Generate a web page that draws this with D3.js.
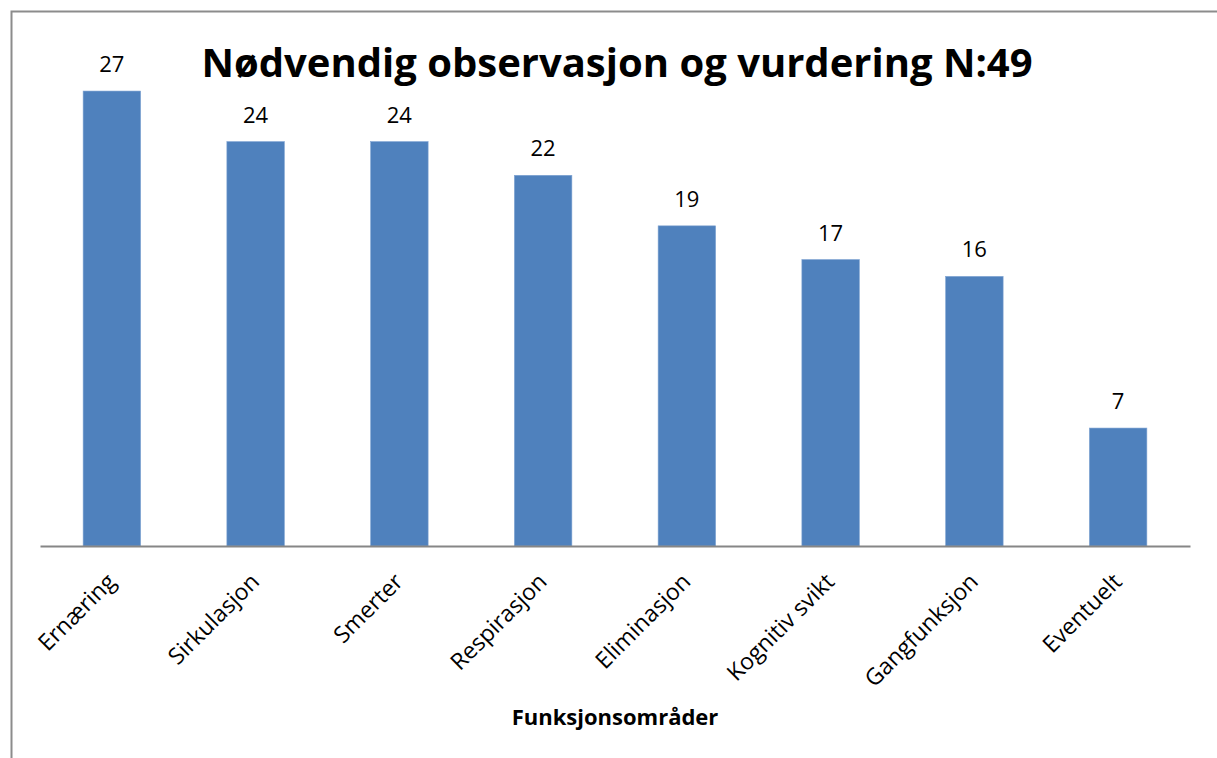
<!DOCTYPE html>
<html>
<head>
<meta charset="utf-8">
<script src="https://cdn.jsdelivr.net/npm/d3@7"></script>
<style>
  body { margin: 0; background: #fff; }
  svg { font-family: "Open Sans", "Liberation Sans", sans-serif; }
</style>
</head>
<body>
<div id="chart"></div>
<script>
const categories = ['Ernæring', 'Sirkulasjon', 'Smerter', 'Respirasjon', 'Eliminasjon', 'Kognitiv svikt', 'Gangfunksjon', 'Eventuelt'];
const values = [27, 24, 24, 22, 19, 17, 16, 7];
const chartTitle = 'Nødvendig observasjon og vurdering N:49';
const xTitle = 'Funksjonsområder';

const width = 1217, height = 758;
const margin = {top: 40.5, right: 27, bottom: 212, left: 40};
const chartWidth = width - margin.left - margin.right;
const chartHeight = height - margin.top - margin.bottom;

const svg = d3.select('#chart')
  .append('svg')
  .attr('width', width)
  .attr('height', height);

// outer frame (runs off the right and bottom edge like the original)
svg.append('rect')
  .attr('x', 11.5).attr('y', 11.5)
  .attr('width', width + 10).attr('height', height + 10)
  .attr('fill', 'none')
  .attr('stroke', '#8c8c8c')
  .attr('stroke-width', 2);

const g = svg.append('g')
  .attr('transform', `translate(${margin.left},${margin.top})`);

const x = d3.scaleBand()
  .domain(categories)
  .range([0, chartWidth])
  .paddingInner(0.6)
  .paddingOuter(0.3);

const y = d3.scaleLinear()
  .domain([0, 30])
  .range([chartHeight, 0]);

// bars
g.selectAll('rect.bar')
  .data(values)
  .join('rect')
  .attr('class', 'bar')
  .attr('x', (d, i) => x(categories[i]))
  .attr('y', d => y(d))
  .attr('width', x.bandwidth())
  .attr('height', d => chartHeight - y(d))
  .attr('fill', '#4f81bd')
  .attr('stroke', '#7fa3d2')
  .attr('stroke-width', 0.6);

// value labels
g.selectAll('text.val')
  .data(values)
  .join('text')
  .attr('class', 'val')
  .attr('x', (d, i) => x(categories[i]) + x.bandwidth() / 2)
  .attr('y', d => y(d) - 19)
  .attr('text-anchor', 'middle')
  .attr('font-size', 22)
  .attr('fill', '#000')
  .text(d => d);

// x axis
const xAxis = g.append('g')
  .attr('transform', `translate(0,${chartHeight})`)
  .call(d3.axisBottom(x).tickSize(0).tickSizeOuter(0));
xAxis.select('.domain').attr('stroke', '#868686').attr('stroke-width', 2);
xAxis.selectAll('.tick text')
  .attr('font-size', 23)
  .attr('font-family', '"Open Sans", sans-serif')
  .attr('fill', '#000')
  .attr('text-anchor', 'end')
  .attr('dy', 0)
  .attr('transform', 'translate(3,35) rotate(-45)');

// title
svg.append('text')
  .attr('x', 617)
  .attr('y', 77)
  .attr('text-anchor', 'middle')
  .attr('font-size', 40)
  .attr('font-weight', 'bold')
  .text(chartTitle);

// axis title
svg.append('text')
  .attr('x', 615)
  .attr('y', 725)
  .attr('text-anchor', 'middle')
  .attr('font-size', 22)
  .attr('font-weight', 'bold')
  .text(xTitle);
</script>
</body>
</html>
